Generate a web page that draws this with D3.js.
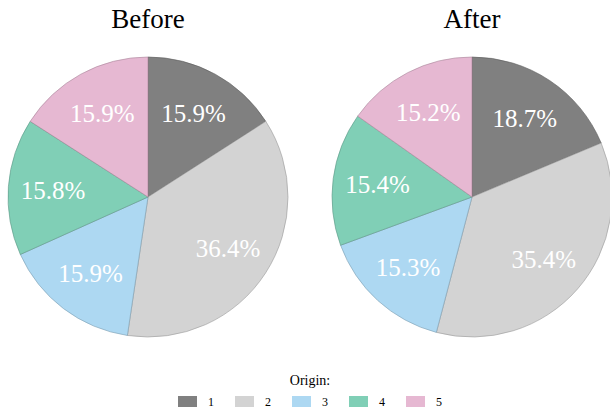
<!DOCTYPE html>
<html>
<head>
<meta charset="utf-8">
<script src="https://cdn.jsdelivr.net/npm/d3@7"></script>
<style>
    body { margin: 0; background: #fff; }
</style>
</head>
<body>
<script>
var categories = ["1", "2", "3", "4", "5"];
var beforeValues = [15.9, 36.4, 15.9, 15.8, 15.9];
var afterValues = [18.7, 35.4, 15.3, 15.4, 15.2];
var panelTitles = ["Before", "After"];
var colorList = ["#808080", "#d3d3d3", "#add8f2", "#80cfb6", "#e6b8d2"];

var width = 610;
var height = 407;
var radius = 140;
var fontFamily = "'Times New Roman', 'Liberation Serif', Times, serif";

var svg = d3.select("body")
    .append("svg")
    .attr("width", width)
    .attr("height", height)
    .style("display", "block")
    .attr("font-family", fontFamily);

var color = d3.scaleOrdinal()
    .domain(categories)
    .range(colorList);

var pie = d3.pie()
    .sort(null)
    .value(function (d) { return d.value; });

var arc = d3.arc()
    .innerRadius(0)
    .outerRadius(radius);

var labelArc = d3.arc()
    .innerRadius(radius * 0.68)
    .outerRadius(radius * 0.68);

// one panel per pie
var xPanel = d3.scalePoint()
    .domain(panelTitles)
    .range([148, 472]);

var panelData = [beforeValues, afterValues];

panelTitles.forEach(function (title, p) {
    var data = categories.map(function (c, i) {
        return {cat: c, value: panelData[p][i]};
    });
    var g = svg.append("g")
        .attr("transform", "translate(" + xPanel(title) + "," + 197 + ")");

    g.selectAll("path")
        .data(pie(data))
        .enter()
        .append("path")
        .attr("d", arc)
        .attr("fill", function (d) { return color(d.data.cat); })
        .attr("stroke", function (d) { return d3.color(color(d.data.cat)).darker(0.9); })
        .attr("stroke-width", 0.6);

    g.selectAll("text")
        .data(pie(data))
        .enter()
        .append("text")
        .attr("transform", function (d) { return "translate(" + labelArc.centroid(d) + ")"; })
        .attr("text-anchor", "middle")
        .attr("dy", "0.35em")
        .attr("fill", "#fff")
        .style("font-size", "25px")
        .text(function (d) { return d.data.value.toFixed(1) + "%"; });

    svg.append("text")
        .attr("x", xPanel(title))
        .attr("y", 28)
        .attr("text-anchor", "middle")
        .style("font-size", "27px")
        .attr("fill", "#000")
        .text(title);
});

// legend
svg.append("text")
    .attr("x", 310)
    .attr("y", 385)
    .attr("text-anchor", "middle")
    .style("font-size", "14px")
    .text("Origin:");

var xLegend = d3.scalePoint()
    .domain(categories)
    .range([178, 406]);

var items = svg.selectAll(".legend")
    .data(categories)
    .enter()
    .append("g")
    .attr("class", "legend")
    .attr("transform", function (d) { return "translate(" + xLegend(d) + ",396)"; });

items.append("rect")
    .attr("width", 19)
    .attr("height", 11)
    .attr("fill", function (d) { return color(d); });

items.append("text")
    .attr("x", 30)
    .attr("y", 9.5)
    .style("font-size", "12px")
    .text(function (d) { return d; });
</script>
</body>
</html>
